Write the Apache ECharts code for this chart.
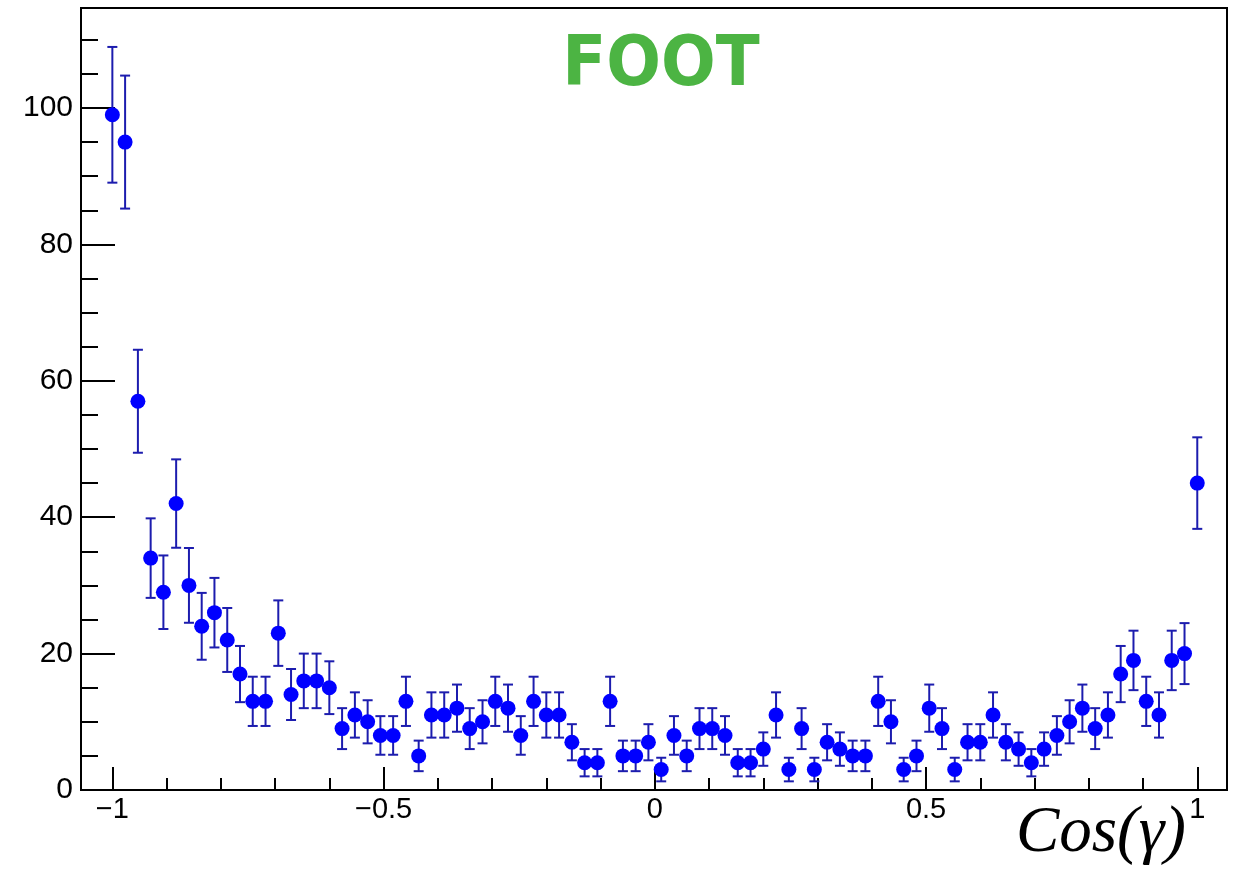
<!DOCTYPE html>
<html>
<head>
<meta charset="utf-8">
<script src="https://cdn.jsdelivr.net/npm/echarts@6/dist/echarts.min.js"></script>
<style>
  html, body { margin: 0; padding: 0; background: #fff; }
  #chart { width: 1235px; height: 878px; }
</style>
</head>
<body>
<div id="chart"></div>
<script>
// Bin centres (x), counts (y) and their errors
const binCenters = [
  -1.0000, -0.9765, -0.9529, -0.9294, -0.9059, -0.8824, -0.8588, -0.8353, -0.8118, -0.7882,
  -0.7647, -0.7412, -0.7176, -0.6941, -0.6706, -0.6471, -0.6235, -0.6000, -0.5765, -0.5529,
  -0.5294, -0.5059, -0.4824, -0.4588, -0.4353, -0.4118, -0.3882, -0.3647, -0.3412, -0.3176,
  -0.2941, -0.2706, -0.2471, -0.2235, -0.2000, -0.1765, -0.1529, -0.1294, -0.1059, -0.0824,
  -0.0588, -0.0353, -0.0118, 0.0118, 0.0353, 0.0588, 0.0824, 0.1059, 0.1294, 0.1529,
  0.1765, 0.2000, 0.2235, 0.2471, 0.2706, 0.2941, 0.3176, 0.3412, 0.3647, 0.3882,
  0.4118, 0.4353, 0.4588, 0.4824, 0.5059, 0.5294, 0.5529, 0.5765, 0.6000, 0.6235,
  0.6471, 0.6706, 0.6941, 0.7176, 0.7412, 0.7647, 0.7882, 0.8118, 0.8353, 0.8588,
  0.8824, 0.9059, 0.9294, 0.9529, 0.9765, 1.0000
];
const counts = [
  99, 95, 57, 34, 29, 42, 30, 24, 26, 22,
  17, 13, 13, 23, 14, 16, 16, 15, 9, 11,
  10, 8, 8, 13, 5, 11, 11, 12, 9, 10,
  13, 12, 8, 13, 11, 11, 7, 4, 4, 13,
  5, 5, 7, 3, 8, 5, 9, 9, 8, 4,
  4, 6, 11, 3, 9, 3, 7, 6, 5, 5,
  13, 10, 3, 5, 12, 9, 3, 7, 7, 11,
  7, 6, 4, 6, 8, 10, 12, 9, 11, 17,
  19, 13, 11, 19, 20, 45
];
const errors = [
  9.95, 9.75, 7.55, 5.83, 5.39, 6.48, 5.48, 4.90, 5.10, 4.69,
  4.12, 3.61, 3.61, 4.80, 3.74, 4.00, 4.00, 3.87, 3.00, 3.32,
  3.16, 2.83, 2.83, 3.61, 2.24, 3.32, 3.32, 3.46, 3.00, 3.16,
  3.61, 3.46, 2.83, 3.61, 3.32, 3.32, 2.65, 2.00, 2.00, 3.61,
  2.24, 2.24, 2.65, 1.73, 2.83, 2.24, 3.00, 3.00, 2.83, 2.00,
  2.00, 2.45, 3.32, 1.73, 3.00, 1.73, 2.65, 2.45, 2.24, 2.24,
  3.61, 3.16, 1.73, 2.24, 3.46, 3.00, 1.73, 2.65, 2.65, 3.32,
  2.65, 2.45, 2.00, 2.45, 2.83, 3.16, 3.46, 3.00, 3.32, 4.12,
  4.36, 3.61, 3.32, 4.36, 4.47, 6.71
];
const xRange = [-1.0578, 1.0548];
const yRange = [0, 114.66];
const xTitle = 'Cos(\u03B3)';
const logoText = 'FOOT';

const points = binCenters.map((x, i) => [x, counts[i], errors[i]]);

const chart = echarts.init(document.getElementById('chart'), null, { renderer: 'canvas' });

const BAR_COLOR = '#1c1cae';
const labelFont = 'Liberation Sans';

function fmtX(v) {
  if (Math.abs(v * 2 - Math.round(v * 2)) > 1e-6) return '';
  const r = Math.round(v * 2) / 2;
  return r < 0 ? '\u2212' + String(-r) : String(r);
}
function fmtY(v) {
  if (Math.abs(v / 20 - Math.round(v / 20)) > 1e-6) return '';
  return String(Math.round(v));
}

chart.setOption({
  animation: false,
  backgroundColor: '#ffffff',
  grid: {
    left: 81, right: 8, top: 8, bottom: 88,
    show: true, borderColor: '#000', borderWidth: 2, backgroundColor: 'transparent'
  },
  xAxis: {
    type: 'value',
    min: xRange[0], max: xRange[1],
    minInterval: 0.5, maxInterval: 0.5,
    splitNumber: 4,
    axisLine: { show: true, onZero: false, lineStyle: { color: '#000', width: 2 } },
    axisTick: { show: true, inside: true, length: 23, lineStyle: { color: '#000', width: 2 } },
    minorTick: { show: true, splitNumber: 5, length: 12, lineStyle: { color: '#000', width: 2 } },
    splitLine: { show: false },
    axisLabel: {
      show: true, formatter: fmtX, color: '#000', fontSize: 29, fontFamily: labelFont,
      margin: 5, showMinLabel: false, showMaxLabel: false
    }
  },
  yAxis: {
    type: 'value',
    min: yRange[0], max: yRange[1],
    minInterval: 20, maxInterval: 20,
    splitNumber: 5,
    axisLine: { show: true, onZero: false, lineStyle: { color: '#000', width: 2 } },
    axisTick: { show: true, inside: true, length: 34, lineStyle: { color: '#000', width: 2 } },
    minorTick: { show: true, splitNumber: 4, length: 17, lineStyle: { color: '#000', width: 2 } },
    splitLine: { show: false },
    axisLabel: {
      show: true, formatter: fmtY, color: '#000', fontSize: 30, fontFamily: labelFont,
      margin: 8, showMaxLabel: false
    }
  },
  series: [
    {
      type: 'custom',
      name: 'errors',
      data: points,
      encode: { x: 0, y: 1 },
      z: 2,
      renderItem: function (params, api) {
        const x = api.value(0), y = api.value(1), e = api.value(2);
        const top = api.coord([x, y + e]);
        const bot = api.coord([x, y - e]);
        const cap = 5;
        const style = { stroke: BAR_COLOR, lineWidth: 2, fill: null };
        return {
          type: 'group',
          children: [
            { type: 'line', shape: { x1: top[0], y1: top[1], x2: bot[0], y2: bot[1] }, style: style },
            { type: 'line', shape: { x1: top[0] - cap, y1: top[1], x2: top[0] + cap, y2: top[1] }, style: style },
            { type: 'line', shape: { x1: bot[0] - cap, y1: bot[1], x2: bot[0] + cap, y2: bot[1] }, style: style }
          ]
        };
      }
    },
    {
      type: 'scatter',
      name: 'counts',
      data: points.map(p => [p[0], p[1]]),
      symbol: 'circle',
      symbolSize: 15,
      itemStyle: { color: '#0000ff', opacity: 1 },
      z: 3
    }
  ],
  graphic: [
    {
      type: 'text',
      x: 1186, y: 834,
      style: {
        text: xTitle,
        font: 'italic 65px "Liberation Serif"',
        fill: '#000',
        textAlign: 'right',
        textVerticalAlign: 'middle'
      }
    },
    {
      type: 'text',
      x: 661, y: 67,
      scaleX: 0.92,
      style: {
        text: logoText,
        font: 'bold 70px "DejaVu Sans"',
        fill: '#4cb443',
        textAlign: 'center',
        textVerticalAlign: 'middle'
      }
    }
  ]
});
</script>
</body>
</html>
